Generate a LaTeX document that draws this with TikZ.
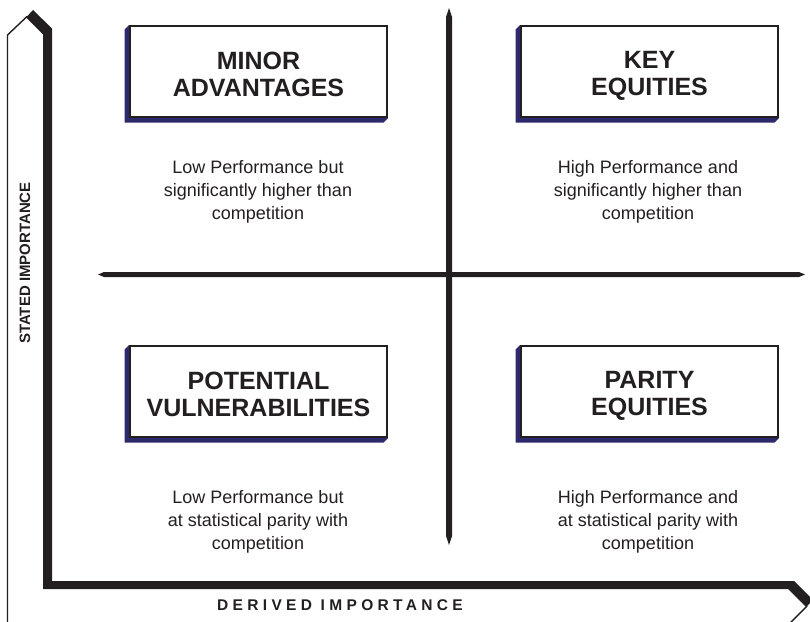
\documentclass[tikz,border=0pt]{standalone}
\usepackage{fontspec}
\setmainfont{Liberation Sans}
\newfontfamily\spacedfont[LetterSpace=28]{Liberation Sans}
\usetikzlibrary{calc}
\definecolor{ink}{HTML}{231F20}
\definecolor{navyshade}{HTML}{2C2A6C}
\pgfdeclarelayer{bg}
\pgfsetlayers{bg,main}
\newcommand{\topstrut}{\rule{0pt}{26pt}}
\newcommand{\botstrut}{\rule[-4pt]{0pt}{4pt}}
\tikzset{
  titlebox/.style={draw=ink, line width=2pt, fill=white, minimum width=257pt, minimum height=91pt,
    inner sep=0pt, align=center, text=ink, font=\fontsize{25}{27}\selectfont\bfseries},
  desc/.style={align=center, text=ink, inner sep=0pt, font=\fontsize{18}{23}\selectfont},
  axislabel/.style={text=ink, inner sep=0pt, font=\fontsize{15}{16}\selectfont\bfseries},
}
\newcommand{\boxshade}[1]{%
  \begin{pgfonlayer}{bg}
  \fill[navyshade] (#1.north west) -- ($(#1.north west)+(-4.5,4.5)$) -- ($(#1.south west)+(-4.5,4.5)$)
     -- ($(#1.south east)+(-4.5,4.5)$) -- (#1.south east) -- (#1.south west) -- cycle;
  \end{pgfonlayer}}
\begin{document}
\begin{tikzpicture}[x=1pt,y=-1pt]
\useasboundingbox (0,0) rectangle (810,621);
\clip (0,0) rectangle (810,621);
% axes frame
\fill[ink] (26,17.5) -- (33,10) -- (52,28.5) -- (52,581) -- (794,581) -- (813,600) -- (806,607)
   -- (788,589) -- (43,589) -- (43,34.5) -- cycle;
\draw[ink, line width=1.4pt, line join=miter] (7.5,640) -- (7.5,35) -- (27,16.5);
\draw[ink, line width=1.4pt, line join=miter] (807,606) -- (787.5,625.5) -- (-10,625.5);
% cross lines
\fill[ink] (449,8) -- (452,17) -- (452,536) -- (449,545) -- (446,536) -- (446,17) -- cycle;
\fill[ink] (98,274.5) -- (104,272) -- (799,272) -- (805,274.5) -- (799,277) -- (104,277) -- cycle;
% boxes
\node[titlebox] (minor) at (258.5,71.5) {\topstrut MINOR\\ADVANTAGES\botstrut};
\node[titlebox] (key) at (649.5,71.5) {\topstrut KEY\\EQUITIES\botstrut};
\node[titlebox] (pot) at (258.5,391.5) {\topstrut POTENTIAL\\VULNERABILITIES\botstrut};
\node[titlebox] (par) at (649.5,391.5) {\topstrut PARITY\\EQUITIES\botstrut};
\boxshade{minor}\boxshade{key}\boxshade{pot}\boxshade{par}
% descriptions
\node[desc] (d1) at (258,191.5) {Low Performance but\\significantly higher than\\competition};
\node[desc] (d2) at (648,191.5) {High Performance and\\significantly higher than\\competition};
\node[desc] (d3) at (258,522) {Low Performance but\\at statistical parity with\\competition};
\node[desc] (d4) at (648,522) {High Performance and\\at statistical parity with\\competition};
% axis labels
\node[axislabel, rotate=90] (yl) at (25,263) {STATED IMPORTANCE};
\node[axislabel] (xl) at (340,605) {\fontsize{15.5}{16}\spacedfont\bfseries DERIVED IMPORTANCE};
\end{tikzpicture}
\end{document}
